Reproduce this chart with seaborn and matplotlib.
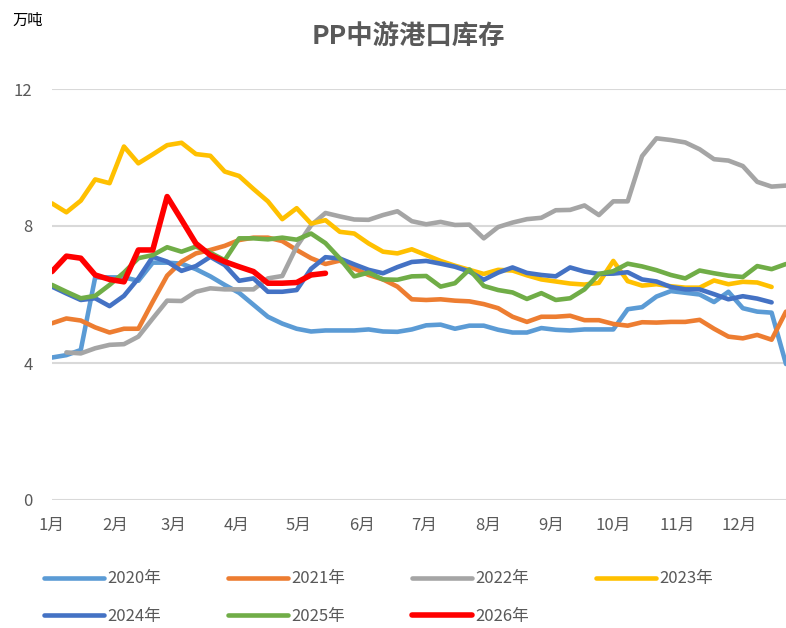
import numpy as np
import pandas as pd
import seaborn as sns
import matplotlib.pyplot as plt

nan = np.nan

# weekly port inventory, 万吨
y2020 = [4.16, 4.23, 4.38, 6.50, 6.50, 6.50, 6.40, 6.93, 6.93, 6.90, 6.74, 6.53, 6.28,
         6.05, 5.70, 5.35, 5.15, 5.00, 4.92, 4.95, 4.95, 4.95, 4.98, 4.92, 4.91, 4.98,
         5.10, 5.12, 5.00, 5.09, 5.09, 4.97, 4.89, 4.89, 5.02, 4.97, 4.95, 4.98, 4.98,
         4.98, 5.57, 5.63, 5.94, 6.10, 6.05, 6.00, 5.78, 6.08, 5.60, 5.50, 5.47, 3.97]
y2021 = [5.16, 5.30, 5.24, 5.04, 4.89, 5.00, 5.00, 5.79, 6.55, 6.96, 7.20, 7.30, 7.42,
         7.59, 7.66, 7.66, 7.56, 7.30, 7.06, 6.89, 6.99, 6.76, 6.57, 6.44, 6.23, 5.86,
         5.84, 5.86, 5.82, 5.80, 5.72, 5.60, 5.35, 5.20, 5.35, 5.35, 5.38, 5.25, 5.25,
         5.14, 5.09, 5.19, 5.18, 5.20, 5.20, 5.26, 5.00, 4.77, 4.72, 4.82, 4.68, 5.50]
y2022 = [nan, 4.31, 4.28, 4.43, 4.53, 4.55, 4.77, 5.30, 5.82, 5.81, 6.08, 6.18, 6.15,
         6.15, 6.15, 6.47, 6.54, 7.40, 8.02, 8.38, 8.28, 8.19, 8.18, 8.32, 8.43, 8.14,
         8.05, 8.12, 8.03, 8.04, 7.64, 7.97, 8.10, 8.20, 8.24, 8.46, 8.47, 8.60, 8.32,
         8.72, 8.72, 10.04, 10.56, 10.51, 10.44, 10.24, 9.95, 9.91, 9.75, 9.29, 9.15, 9.18]
y2023 = [8.66, 8.40, 8.74, 9.36, 9.25, 10.32, 9.83, 10.09, 10.36, 10.43, 10.10, 10.05, 9.59,
         9.46, 9.08, 8.72, 8.20, 8.52, 8.07, 8.17, 7.83, 7.78, 7.49, 7.25, 7.20, 7.32,
         7.15, 6.98, 6.84, 6.72, 6.60, 6.72, 6.70, 6.56, 6.44, 6.38, 6.32, 6.29, 6.34,
         6.98, 6.39, 6.26, 6.30, 6.24, 6.20, 6.20, 6.41, 6.30, 6.37, 6.35, 6.22, nan]
y2024 = [6.23, 6.03, 5.84, 5.89, 5.66, 5.96, 6.47, 7.10, 6.96, 6.69, 6.83, 7.10, 6.86,
         6.40, 6.47, 6.08, 6.08, 6.13, 6.75, 7.09, 7.05, 6.88, 6.72, 6.62, 6.80, 6.95,
         6.98, 6.90, 6.81, 6.67, 6.43, 6.64, 6.79, 6.63, 6.57, 6.53, 6.79, 6.67, 6.60,
         6.61, 6.65, 6.44, 6.38, 6.22, 6.15, 6.15, 6.01, 5.86, 5.95, 5.88, 5.77, nan]
y2025 = [6.28, 6.08, 5.89, 5.96, 6.28, 6.64, 7.06, 7.15, 7.38, 7.25, 7.40, 7.22, 7.00,
         7.64, 7.64, 7.61, 7.66, 7.60, 7.78, 7.50, 7.05, 6.53, 6.64, 6.44, 6.43, 6.53,
         6.54, 6.23, 6.33, 6.73, 6.25, 6.13, 6.06, 5.87, 6.04, 5.84, 5.89, 6.15, 6.60,
         6.68, 6.90, 6.82, 6.71, 6.57, 6.47, 6.70, 6.62, 6.55, 6.51, 6.83, 6.74, 6.89]
y2026 = [6.67, 7.12, 7.06, 6.57, 6.44, 6.37, 7.30, 7.30, 8.86, 8.18, 7.49, 7.15, 6.96,
         6.81, 6.67, 6.33, 6.33, 6.35, 6.57, 6.62]

years = ['2020年', '2021年', '2022年', '2023年', '2024年', '2025年', '2026年']
series = [y2020, y2021, y2022, y2023, y2024, y2025, y2026]
colors = ['#5B9BD5', '#ED7D31', '#A5A5A5', '#FFC000', '#4472C4', '#70AD47', '#FF0000']

months = ['1月', '2月', '3月', '4月', '5月', '6月', '7月', '8月', '9月', '10月', '11月', '12月']
month_days = [31, 28, 31, 30, 31, 30, 31, 31, 30, 31, 30, 31]

sns.set_theme(style='white')
plt.rcParams['font.family'] = ['Noto Sans CJK SC', 'DejaVu Sans']

rows = []
for year, vals in zip(years, series):
    for i, v in enumerate(vals):
        rows.append({'week': i, 'value': v, 'year': year})
df = pd.DataFrame(rows).dropna()

fig = plt.figure(figsize=(7.86, 6.28), dpi=100)
ax = fig.add_axes([52 / 786, 128 / 628, 734 / 786, 411 / 628])

for year, color in zip(years, colors):
    sub = df[df['year'] == year]
    lw = 4.0 if year == '2026年' else 3.3
    sns.lineplot(data=sub, x='week', y='value', color=color, linewidth=lw, label=year,
                 ax=ax, solid_capstyle='round', solid_joinstyle='round')

# month ticks at the first week of each month
month_start = np.concatenate([[0], np.cumsum(month_days)[:-1]]) / 7.0
ax.set_xticks(month_start)
ax.set_xticklabels(months)
ax.set_xlim(0, 51)
ax.set_ylim(0, 12)
ax.set_yticks([0, 4, 8, 12])
ax.grid(axis='y', color='#D9D9D9', linewidth=1.5)
ax.grid(axis='x', visible=False)
sns.despine(ax=ax, left=True, bottom=True, right=True, top=True)
ax.tick_params(axis='both', length=0, labelsize=12, labelcolor='#595959')
ax.tick_params(axis='x', pad=12)
ax.tick_params(axis='y', pad=14)
ax.set_xlabel('')
ax.set_ylabel('')
ax.get_legend().remove()

fig.text(408 / 786, 1 - 36 / 628, 'PP中游港口库存', ha='center', va='center',
         fontsize=19, fontweight='bold', color='#595959')
fig.text(12 / 786, 1 - 20 / 628, '万吨', ha='left', va='center', fontsize=11, color='black')

# legend reads row by row: reorder for matplotlib's column-first filling
handles, labels = ax.get_legend_handles_labels()
order = [0, 4, 1, 5, 2, 6, 3]
fig.legend([handles[k] for k in order], [labels[k] for k in order],
           loc='upper left', bbox_to_anchor=(36 / 786, 1 - 562 / 628),
           ncol=4, frameon=False, fontsize=12, handlelength=3.6, handletextpad=0.2,
           columnspacing=4.0, labelspacing=1.25, borderpad=0, labelcolor='#595959')

plt.savefig('out.png', dpi=100)
